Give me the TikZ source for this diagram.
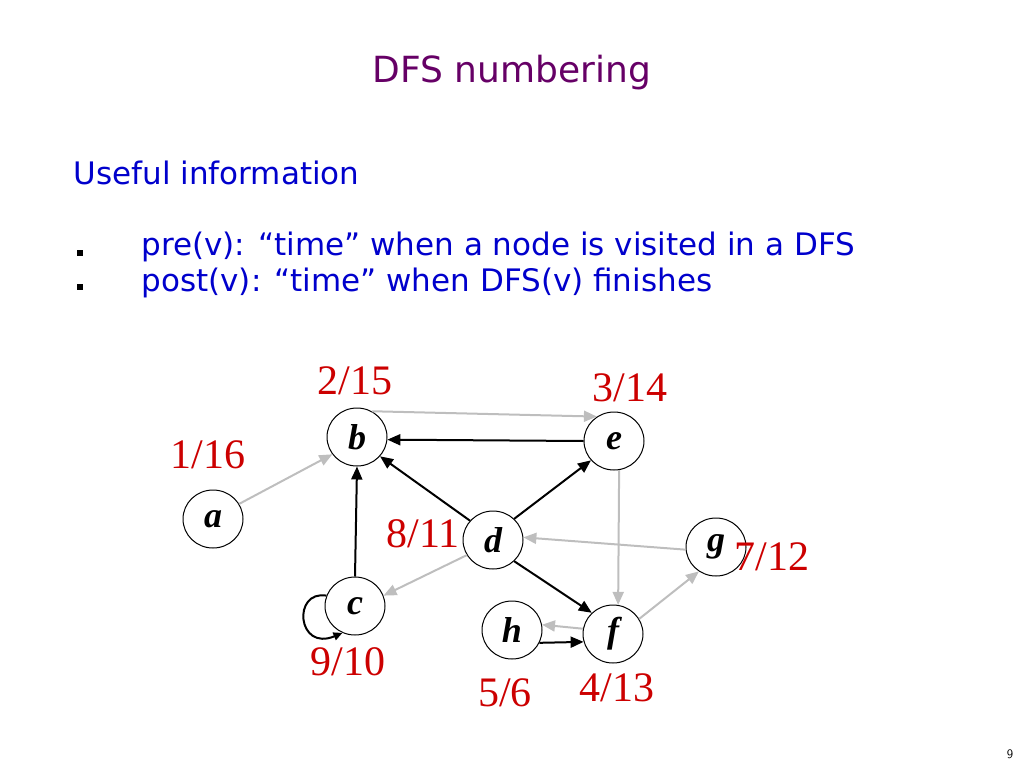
\documentclass[tikz,border=0pt]{standalone}
\usepackage{fontspec}
\setmainfont{Liberation Serif}
\newfontfamily\slidefont{DejaVu Sans}
\usetikzlibrary{arrows.meta,shapes.geometric}
\definecolor{ttl}{RGB}{102,0,102}
\definecolor{bod}{RGB}{0,0,204}
\definecolor{num}{RGB}{204,0,0}
\definecolor{lg}{RGB}{190,190,190}
\begin{document}
\begin{tikzpicture}[x=1pt,y=-1pt,
  vtx/.style={draw,line width=1pt,ellipse,minimum width=60pt,minimum height=58pt,inner sep=0pt,font=\fontsize{36}{36}\selectfont\bfseries\itshape},
  num/.style={text=num,font=\fontsize{42}{42}\selectfont},
  blk/.style={draw=black,line width=2pt,-{Triangle[length=13pt,width=11pt]}},
  gry/.style={draw=lg,line width=2pt,-{Triangle[length=13pt,width=11pt]}},
  bul/.style={fill=black,minimum size=6pt,inner sep=0pt}]
\useasboundingbox (0,0) rectangle (1024,768);
\node[text=ttl,font=\slidefont\fontsize{36}{36}\selectfont] (title) at (512,73) {DFS numbering};
\node[anchor=west,text=bod,font=\slidefont\fontsize{31}{31}\selectfont] (t1) at (70,173) {Useful information};
\node[bul] (b1) at (80,253) {};
\node[bul] (b2) at (80,287) {};
\node[anchor=west,text=bod,font=\slidefont\fontsize{31}{31}\selectfont] (t2) at (138,247) {pre(v): “time” when a node is visited in a DFS};
\node[anchor=west,text=bod,font=\slidefont\fontsize{31}{31}\selectfont] (t3) at (138,283) {post(v): “time” when DFS(v) finishes};
\node[font=\sffamily\fontsize{13}{13}\selectfont] (pg) at (1010,754) {9};

\node[vtx] (b) at (357,437) {b};
\node[vtx] (a) at (213,519) {a};
\node[vtx] (c) at (355,606) {c};
\node[vtx] (d) at (493,540) {d};
\node[vtx] (e) at (614,441) {e};
\node[vtx] (f) at (613,634) {f};
\node[vtx] (g) at (716,547) {g};
\node[vtx] (h) at (512,630) {h};

\node[num] (nb) at (355,381) {2/15};
\node[num] (ne) at (630,388) {3/14};
\node[num] (na) at (208,455) {1/16};
\node[num] (nd) at (423,534) {8/11};
\node[num] (ng) at (772,557) {7/12};
\node[num] (nc) at (348,662) {9/10};
\node[num] (nh) at (505,693) {5/6};
\node[num] (nf) at (617,688) {4/13};

\draw[gry] (a.30) -- (b.215);
\draw[gry] (b.60) -- (e.125);
\draw[blk] (e.180) -- (b.355);
\draw[blk] (d.140) -- (b.320);
\draw[blk] (d.45) -- (e.220);
\draw[blk] (c.90) -- (b.270);
\draw[gry] (d.210) -- (c.20);
\draw[gry] (g.185) -- (d.5);
\draw[gry] (e.280) -- (f.80);
\draw[blk] (d.315) -- (f.135);
\draw[gry] (f.170) -- (h.10);
\draw[blk] (h.335) -- (f.195);
\draw[gry] (f.30) -- (g.235);
\draw[draw=black,line width=2pt,-{Triangle[length=9pt,width=8pt]}] (c.160) .. controls (292,590) and (297,652) .. (c.245);
\end{tikzpicture}
\end{document}
